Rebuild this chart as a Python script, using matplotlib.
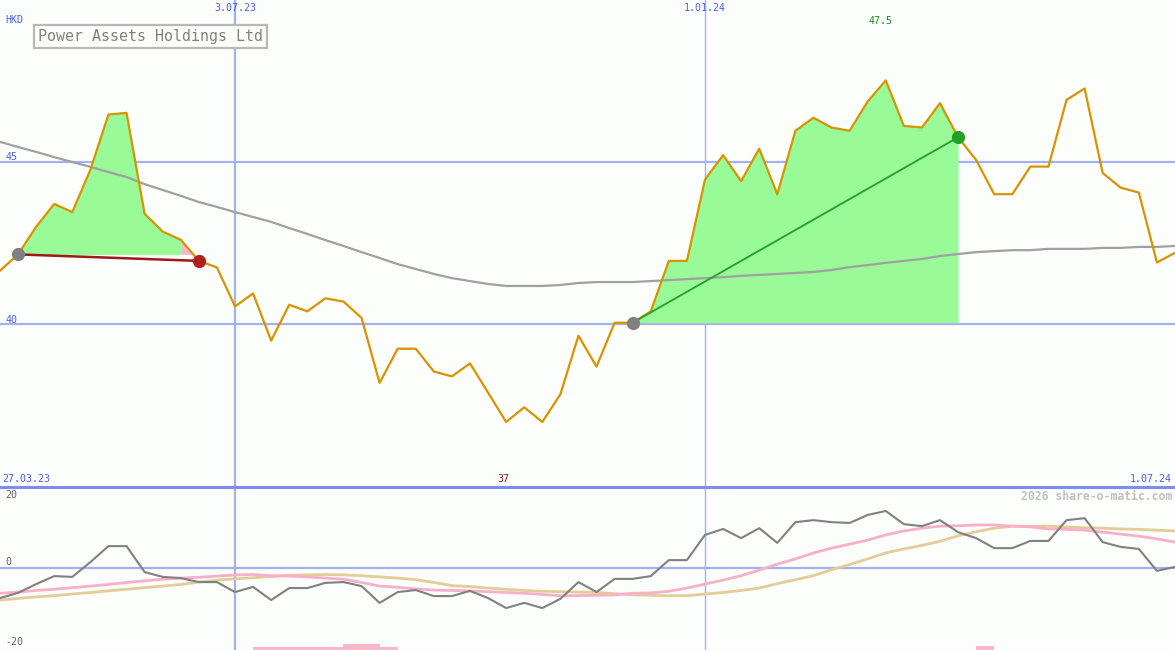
import matplotlib
matplotlib.use("Agg")
import matplotlib.pyplot as plt
from matplotlib.lines import Line2D
import numpy as np

# ---------------- data ----------------
price = [41.65, 42.15, 43.0, 43.7, 43.45, 44.75, 46.45, 46.5, 43.4, 42.85,
         42.6, 41.95, 41.75, 40.55, 40.95, 39.5, 40.6, 40.4, 40.8, 40.7,
         40.2, 38.2, 39.25, 39.25, 38.55, 38.4, 38.8, 37.9, 37.0, 37.45,
         37.0, 37.85, 39.65, 38.7, 40.05, 40.05, 40.4, 41.95, 41.95, 44.45,
         45.2, 44.4, 45.4, 44.0, 45.95, 46.35, 46.05, 45.95, 46.85, 47.5,
         46.1, 46.05, 46.8, 45.75, 45.05, 44.0, 44.0, 44.85, 44.85, 46.9,
         47.25, 44.65, 44.2, 44.05, 41.9, 42.2]

ma_long = [45.61, 45.45, 45.30, 45.14, 44.99, 44.84, 44.68, 44.53, 44.31, 44.13,
           43.95, 43.76, 43.61, 43.45, 43.30, 43.15, 42.96, 42.78, 42.59, 42.41,
           42.22, 42.04, 41.85, 41.70, 41.55, 41.42, 41.33, 41.24, 41.18, 41.18,
           41.18, 41.21, 41.27, 41.30, 41.30, 41.30, 41.33, 41.36, 41.39, 41.42,
           41.45, 41.49, 41.52, 41.55, 41.58, 41.61, 41.67, 41.76, 41.82, 41.89,
           41.95, 42.01, 42.10, 42.16, 42.22, 42.25, 42.28, 42.28, 42.32, 42.32,
           42.32, 42.35, 42.35, 42.38, 42.38, 42.41]

momentum = [-7.6, -6.3, -4.1, -2.1, -2.3, 1.4, 5.4, 5.4, -1.1, -2.3,
            -2.6, -3.6, -3.6, -6.1, -4.8, -8.1, -5.1, -5.1, -3.8, -3.6,
            -4.6, -8.8, -6.1, -5.6, -7.1, -7.1, -5.8, -7.6, -10.1, -8.8,
            -10.1, -7.8, -3.6, -6.1, -2.8, -2.8, -2.1, 1.9, 1.9, 8.2,
            9.7, 7.4, 9.9, 6.2, 11.4, 11.9, 11.4, 11.2, 13.2, 14.2,
            10.9, 10.4, 11.9, 8.9, 7.4, 4.9, 4.9, 6.7, 6.7, 11.9,
            12.4, 6.4, 5.2, 4.7, -0.8, 0.2]

signal_pink = [-6.4, -6.1, -5.7, -5.4, -5.0, -4.6, -4.2, -3.7, -3.3, -2.9,
               -2.6, -2.4, -2.1, -1.8, -1.7, -2.0, -2.1, -2.3, -2.6, -2.9,
               -3.7, -4.6, -4.9, -5.3, -5.6, -5.7, -5.8, -6.0, -6.2, -6.4,
               -6.7, -7.0, -7.0, -6.9, -6.8, -6.4, -6.3, -5.9, -5.1, -4.1,
               -3.1, -2.0, -0.6, 0.9, 2.2, 3.7, 4.9, 5.9, 6.9, 8.2,
               9.2, 9.9, 10.4, 10.5, 10.7, 10.7, 10.4, 10.2, 9.7, 9.6,
               9.4, 8.9, 8.4, 7.9, 7.2, 6.4]

signal_tan = [-8.1, -7.7, -7.3, -7.0, -6.6, -6.2, -5.8, -5.4, -5.0, -4.6,
              -4.2, -3.6, -3.1, -2.8, -2.5, -2.2, -1.9, -1.8, -1.7, -1.8,
              -2.0, -2.3, -2.6, -3.0, -3.7, -4.5, -4.7, -5.1, -5.4, -5.7,
              -5.9, -6.0, -6.1, -6.2, -6.5, -6.8, -6.9, -7.0, -7.0, -6.6,
              -6.2, -5.7, -5.1, -4.0, -3.0, -2.0, -0.5, 0.8, 2.2, 3.7,
              4.7, 5.6, 6.6, 8.0, 9.0, 9.9, 10.4, 10.4, 10.4, 10.2,
              10.0, 9.9, 9.7, 9.6, 9.4, 9.2]

hist_idx = [14, 15, 16, 17, 18, 19, 20, 21, 54]
hist_val = [-19.9, -19.9, -19.9, -19.9, -19.9, -19.1, -19.1, -19.9, -19.6]

date_idx = [13, 39]
date_labels = ["3.07.23", "1.01.24"]
start_label = "27.03.23"
end_label = "1.07.24"
price_levels = [45, 40]
osc_levels = [20, 0, -20]

seg1 = (1, 11)   # start / end index of first trend segment (red)
seg2 = (35, 53)  # start / end index of second trend segment (green)

title = "Power Assets Holdings Ltd"
currency = "HKD"
credit = "2026 share-o-matic.com"

# ---------------- styling ----------------
BG = "#fcfefc"
BLUE_GRID = "#a4b0f0"
BLUE_TXT = "#4a5cf0"
SEP = "#7d8cf0"
PRICE_C = "#d99200"
GREEN_FILL = "#98fb98"
PINK_FILL = "#f8b8c8"
MONO = "DejaVu Sans Mono"

W, H = 1175, 650
fig = plt.figure(figsize=(W / 100, H / 100), dpi=100, facecolor=BG)
split = 487
ax = fig.add_axes([0, (H - split) / H, 1, split / H], facecolor=BG)
ax2 = fig.add_axes([0, 0, 1, (H - split) / H], facecolor=BG)
for a in (ax, ax2):
    for s in a.spines.values():
        s.set_visible(False)
    a.set_xticks([])
    a.set_yticks([])

x = np.arange(len(price))
p = np.array(price)
n = len(price) - 1
ax.set_xlim(0, n)
ax2.set_xlim(0, n)
ax.set_ylim(35.0, 49.97)
ax2.set_ylim(-20.6, 20.2)

# grid lines
for lv in price_levels:
    ax.axhline(lv, color=BLUE_GRID, lw=1.6, zorder=1)
ax2.axhline(0, color=BLUE_GRID, lw=1.6, zorder=1)
for i, di in enumerate(date_idx):
    lw = 1.6 if i == 0 else 1.0
    ax.axvline(di, color=BLUE_GRID, lw=lw, zorder=1)
    ax2.axvline(di, color=BLUE_GRID, lw=lw, zorder=1)

# separator
fig.add_artist(Line2D([0, 1], [(H - split) / H] * 2, color=SEP, lw=2.2,
                      transform=fig.transFigure))

# fills for segment 1
a0, a1 = seg1
base1 = p[a0]
xs = x[a0:a1]
ax.fill_between(xs, p[a0:a1], base1, color=GREEN_FILL, lw=0, zorder=2)
xs2 = x[a1 - 1:a1 + 1]
ax.fill_between(xs2, p[a1 - 1:a1 + 1], base1, where=p[a1 - 1:a1 + 1] >= base1,
                interpolate=True, color=PINK_FILL, lw=0, zorder=2)
# fills for segment 2
b0, b1 = seg2
base2 = p[b0]
ax.fill_between(x[b0:b1 + 1], p[b0:b1 + 1], base2, color=GREEN_FILL, lw=0, zorder=2)

# long moving average
ax.plot(x, ma_long, color="#a0a0a0", lw=1.6, zorder=3)
# price
ax.plot(x, p, color=PRICE_C, lw=1.6, zorder=4)

# trend lines
ax.plot([a0, a1], [p[a0], p[a1]], color="#a01818", lw=1.8, zorder=5)
ax.plot([b0, b1], [p[b0], p[b1]], color="#22a022", lw=1.3, zorder=5)
ax.plot([a0], [p[a0]], "o", color="#808080", ms=8.5, zorder=6)
ax.plot([a1], [p[a1]], "o", color="#b02020", ms=8.5, zorder=6)
ax.plot([b0], [p[b0]], "o", color="#808080", ms=8.5, zorder=6)
ax.plot([b1], [p[b1]], "o", color="#22a022", ms=8.5, zorder=6)

# oscillator panel
ymin2 = ax2.get_ylim()[0]
ax2.bar(hist_idx, np.array(hist_val) - ymin2, bottom=ymin2, width=1.0,
        align="edge", color=PINK_FILL, lw=0, zorder=2)
ax2.plot(x, signal_tan, color="#e4cc98", lw=2.0, zorder=3)
ax2.plot(x, signal_pink, color="#f8b0c8", lw=2.0, zorder=3)
ax2.plot(x, momentum, color="#808080", lw=1.5, zorder=4)

# ---------------- texts ----------------
def fx(px):
    return px / W

def fy(py):
    return 1 - py / H

small = dict(family=MONO, fontsize=7.2)
fig.text(fx(5), fy(20), currency, color=BLUE_TXT, ha="left", va="center", **small)
for di, lab in zip(date_idx, date_labels):
    fig.text(fx(di * W / n), fy(8), lab, color=BLUE_TXT,
             ha="center", va="center", **small)
for lv in price_levels:
    ax.annotate(str(lv), (0, lv), xytext=(4, -0.5), textcoords="offset points",
                color=BLUE_TXT, ha="left", va="bottom", **small)
fig.text(fx(2), fy(479), start_label, color=BLUE_TXT, ha="left", va="center", **small)
fig.text(fx(1172), fy(479), end_label, color=BLUE_TXT, ha="right", va="center", **small)

imax = int(np.argmax(p))
imin = int(np.argmin(p))
fig.text(fx(imax * W / n - 5), fy(21), f"{p[imax]:g}", color="#1a8a1a",
         ha="center", va="center", **small)
fig.text(fx(imin * W / n - 3), fy(479), f"{p[imin]:g}", color="#8b1a1a",
         ha="center", va="center", **small)

for lv, py in zip(osc_levels, [495, 562, 642]):
    fig.text(fx(5), fy(py), str(lv), color="#606060", ha="left", va="center", **small)

fig.text(fx(1172), fy(496), credit, color="#c0c0c0", ha="right", va="center",
         family=MONO, fontsize=8.3, fontweight="bold")

fig.text(fx(150.5), fy(36.5), title, color="#808080", ha="center", va="center",
         family=MONO, fontsize=10.8,
         bbox=dict(boxstyle="square,pad=0.25", fc=BG, ec="#b8b8b8", lw=1.6))

fig.savefig("out.png", dpi=100, facecolor=BG)
